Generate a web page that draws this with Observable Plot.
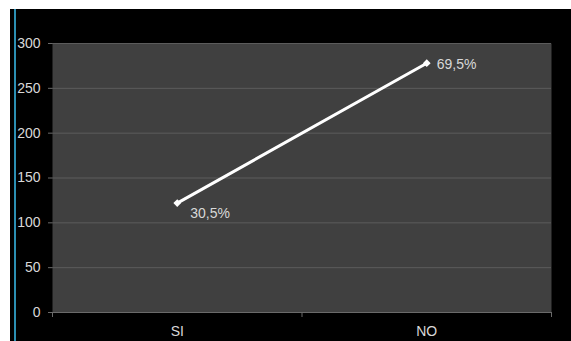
<!DOCTYPE html>
<html>
<head>
<meta charset="utf-8">
<script src="https://cdn.jsdelivr.net/npm/d3@7"></script>
<script src="https://cdn.jsdelivr.net/npm/@observablehq/plot@0.6"></script>
<style>
  html, body { margin: 0; padding: 0; background: #fff; }
  #stage { position: relative; width: 571px; height: 341px; overflow: hidden; }
  #panel { position: absolute; left: 10px; top: 9px; right: 0; bottom: 0; background: #000; }
  #panel::before { content: ""; position: absolute; left: 4px; top: 0; bottom: 0; width: 2px; background: #2b8fb3; }
  #chart { position: absolute; left: 0; top: 0; }
  #chart svg { background: transparent; }
</style>
</head>
<body>
<div id="stage">
  <div id="panel"></div>
  <div id="chart"></div>
</div>
<script>
// Answers to the question, with counts and their share of the total
const categories = ["SI", "NO"];
const counts = [122, 278];
const shares = ["30,5%", "69,5%"];
const yTicks = [0, 50, 100, 150, 200, 250, 300];

const rows = categories.map((c, i) => ({ cat: c, pos: i + 0.5, count: counts[i], share: shares[i] }));
const catTicks = categories.map((c, i) => ({ cat: c, pos: i + 0.5 }));
const bounds = d3.range(categories.length + 1);

const font = "'Liberation Sans', 'DejaVu Sans', sans-serif";
const textColor = "#d8d8d8";
const axisColor = "#6a6a6a";

const chart = Plot.plot({
  width: 571,
  height: 341,
  marginLeft: 52,
  marginRight: 20,
  marginTop: 43,
  marginBottom: 29,
  style: { background: "transparent", color: textColor, fontFamily: font, fontSize: "14px" },
  x: { domain: [0, categories.length], axis: null },
  y: { domain: [0, 300], axis: null },
  marks: [
    Plot.frame({ fill: "#404040", stroke: null }),
    Plot.gridY(yTicks.filter(d => d > 0), { stroke: "#5c5c5c", strokeOpacity: 1, strokeWidth: 1 }),
    Plot.axisY(yTicks, { label: null, tickSize: 4, tickPadding: 8, stroke: axisColor, fill: textColor, fontSize: 14 }),
    Plot.ruleY([0], { stroke: axisColor, strokeWidth: 1 }),
    // short ticks below the baseline at the category boundaries
    Plot.ruleX(bounds, { x: d => d, y1: 0, y2: 0, insetBottom: -5, stroke: axisColor }),
    Plot.text(catTicks, { x: "pos", y: 0, text: "cat", dy: 19, fill: textColor, fontSize: 14 }),
    Plot.line(rows, { x: "pos", y: "count", stroke: "#ffffff", strokeWidth: 3 }),
    Plot.dot(rows, { x: "pos", y: "count", symbol: "diamond2", r: 3.5, fill: "#ffffff", stroke: "none" }),
    Plot.text(rows.slice(0, 1), { x: "pos", y: "count", text: "share", dx: 13, dy: 10, textAnchor: "start", fill: textColor, fontSize: 14 }),
    Plot.text(rows.slice(1), { x: "pos", y: "count", text: "share", dx: 10, dy: 1, textAnchor: "start", fill: textColor, fontSize: 14 })
  ]
});

document.getElementById("chart").appendChild(chart);
</script>
</body>
</html>
